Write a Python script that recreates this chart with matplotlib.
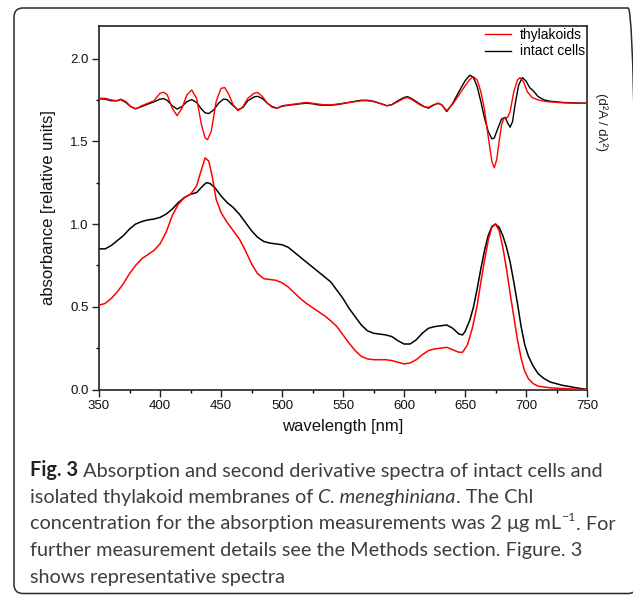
import matplotlib
matplotlib.use("Agg")
import matplotlib.pyplot as plt
from matplotlib.patches import FancyBboxPatch
from matplotlib.transforms import IdentityTransform
from matplotlib.ticker import MultipleLocator

# ---------------- data ----------------
wl_abs_cells = [350, 355, 360, 365, 370, 375, 380, 385, 390, 395, 400, 405, 410, 415, 420, 425, 430, 435, 438, 441,
                445, 450, 455, 460, 465, 470, 475, 480, 485, 490, 495, 500, 505, 510, 515, 520, 525, 530, 535, 540,
                545, 550, 555, 560, 565, 570, 575, 580, 585, 590, 595, 600, 605, 610, 615, 620, 625, 630, 635, 640,
                645, 648, 650, 654, 657, 660, 663, 666, 669, 672, 675, 678, 681, 684, 687, 690, 693, 696, 699, 702,
                706, 710, 715, 720, 730, 740, 750]
abs_cells = [0.85, 0.85, 0.87, 0.90, 0.93, 0.97, 1.00, 1.015, 1.025, 1.03, 1.04, 1.06, 1.09, 1.13, 1.16, 1.18, 1.19, 1.23, 1.25, 1.245,
             1.22, 1.17, 1.13, 1.10, 1.06, 1.01, 0.96, 0.92, 0.895, 0.885, 0.88, 0.875, 0.86, 0.83, 0.80, 0.77, 0.74, 0.71, 0.68, 0.65,
             0.60, 0.55, 0.49, 0.44, 0.39, 0.355, 0.34, 0.335, 0.33, 0.32, 0.295, 0.275, 0.275, 0.30, 0.34, 0.37, 0.38, 0.385, 0.39, 0.37,
             0.335, 0.33, 0.35, 0.42, 0.50, 0.61, 0.73, 0.84, 0.93, 0.985, 1.00, 0.98, 0.93, 0.86, 0.77, 0.65, 0.52, 0.38, 0.27, 0.20,
             0.14, 0.095, 0.065, 0.045, 0.025, 0.012, 0.0]

wl_abs_thyl = [350, 355, 360, 365, 370, 375, 380, 385, 390, 395, 400, 405, 410, 415, 420, 425, 430, 434, 437, 440,
               443, 446, 450, 455, 460, 465, 470, 475, 480, 485, 490, 495, 500, 505, 510, 515, 520, 525, 530, 535,
               540, 545, 550, 555, 560, 565, 570, 575, 580, 585, 590, 595, 600, 605, 610, 615, 620, 625, 630, 635,
               640, 645, 648, 652, 656, 660, 663, 666, 669, 672, 675, 678, 681, 684, 687, 690, 693, 696, 699, 702,
               706, 710, 720, 735, 750]
abs_thyl = [0.51, 0.52, 0.55, 0.59, 0.64, 0.70, 0.75, 0.79, 0.815, 0.84, 0.88, 0.95, 1.05, 1.12, 1.16, 1.18, 1.23, 1.33, 1.40, 1.38,
            1.28, 1.15, 1.07, 1.01, 0.96, 0.91, 0.84, 0.76, 0.70, 0.67, 0.665, 0.66, 0.645, 0.62, 0.585, 0.55, 0.52, 0.495, 0.47, 0.445,
            0.415, 0.38, 0.33, 0.28, 0.235, 0.20, 0.185, 0.18, 0.18, 0.18, 0.175, 0.165, 0.155, 0.16, 0.18, 0.21, 0.235, 0.245, 0.25, 0.255,
            0.24, 0.225, 0.225, 0.27, 0.37, 0.51, 0.65, 0.78, 0.90, 0.98, 1.00, 0.96, 0.86, 0.73, 0.58, 0.44, 0.30, 0.19, 0.11, 0.065,
            0.035, 0.02, 0.01, 0.004, 0.0]

wl_d2_cells = [350, 355, 360, 364, 368, 372, 376, 380, 385, 390, 395, 400, 403, 406, 410, 414, 418, 422, 426, 430,
               434, 437, 440, 444, 448, 452, 455, 460, 464, 468, 472, 477, 480, 484, 488, 492, 496, 500, 505, 510,
               515, 520, 525, 530, 535, 540, 545, 550, 555, 560, 565, 570, 575, 580, 586, 590, 595, 600, 603, 607,
               612, 616, 620, 624, 628, 631, 635, 640, 645, 650, 654, 657, 660, 663, 666, 669, 672, 674, 677, 680,
               683, 685, 687, 689, 691, 694, 697, 700, 703, 706, 710, 715, 720, 730, 740, 750]
d2_cells = [1.757, 1.755, 1.745, 1.745, 1.752, 1.735, 1.71, 1.697, 1.71, 1.725, 1.738, 1.755, 1.758, 1.747, 1.715, 1.695, 1.71, 1.74, 1.752, 1.735,
            1.695, 1.672, 1.668, 1.69, 1.73, 1.755, 1.752, 1.715, 1.69, 1.705, 1.745, 1.768, 1.772, 1.758, 1.73, 1.71, 1.70, 1.712, 1.718, 1.722,
            1.727, 1.73, 1.727, 1.72, 1.718, 1.718, 1.722, 1.728, 1.735, 1.742, 1.748, 1.748, 1.742, 1.73, 1.715, 1.722, 1.745, 1.765, 1.77, 1.755,
            1.73, 1.712, 1.70, 1.718, 1.73, 1.72, 1.68, 1.73, 1.80, 1.865, 1.90, 1.885, 1.83, 1.74, 1.64, 1.56, 1.515, 1.52, 1.58, 1.635,
            1.645, 1.61, 1.585, 1.62, 1.72, 1.84, 1.885, 1.865, 1.825, 1.805, 1.77, 1.75, 1.742, 1.735, 1.732, 1.73]

wl_d2_thyl = [350, 355, 360, 365, 368, 372, 376, 380, 385, 390, 395, 400, 403, 406, 410, 414, 418, 422, 426, 430,
              434, 437, 439, 442, 446, 450, 453, 456, 460, 464, 468, 472, 477, 480, 484, 488, 492, 496, 500, 505,
              510, 515, 520, 525, 530, 535, 540, 545, 550, 555, 560, 565, 570, 575, 580, 586, 590, 595, 600, 603,
              607, 612, 616, 620, 624, 628, 631, 635, 640, 645, 650, 654, 657, 660, 663, 666, 669, 672, 674, 676,
              678, 680, 682, 685, 687, 690, 693, 695, 698, 701, 705, 710, 715, 720, 730, 740, 750]
d2_thyl = [1.76, 1.76, 1.75, 1.745, 1.755, 1.74, 1.71, 1.695, 1.715, 1.73, 1.745, 1.79, 1.797, 1.78, 1.70, 1.655, 1.70, 1.78, 1.81, 1.76,
           1.60, 1.52, 1.51, 1.56, 1.74, 1.82, 1.825, 1.79, 1.72, 1.685, 1.71, 1.76, 1.79, 1.795, 1.77, 1.73, 1.705, 1.70, 1.715, 1.72,
           1.725, 1.73, 1.735, 1.73, 1.725, 1.72, 1.72, 1.725, 1.73, 1.735, 1.74, 1.745, 1.745, 1.74, 1.73, 1.715, 1.72, 1.74, 1.76, 1.765,
           1.75, 1.725, 1.71, 1.705, 1.72, 1.73, 1.72, 1.685, 1.725, 1.78, 1.835, 1.875, 1.89, 1.87, 1.80, 1.69, 1.53, 1.38, 1.34, 1.39,
           1.50, 1.60, 1.64, 1.645, 1.68, 1.80, 1.87, 1.885, 1.86, 1.80, 1.765, 1.75, 1.742, 1.738, 1.733, 1.73, 1.73]

series_labels = ["thylakoids", "intact cells"]
x_ticks = [350, 400, 450, 500, 550, 600, 650, 700, 750]
y_ticks = [0.0, 0.5, 1.0, 1.5, 2.0]

# ---------------- figure ----------------
W, H = 633, 595
fig = plt.figure(figsize=(W / 100, H / 100), dpi=100)
fig.patch.set_facecolor("white")

# rounded border around the whole figure panel (right side runs off the image)
border = FancyBboxPatch((14, 1.5), 623, 585.5, boxstyle="round,pad=0,rounding_size=9",
                        transform=IdentityTransform(), fill=False, edgecolor="#2b2b2b",
                        linewidth=1.1, clip_on=False)
fig.patches.append(border)

ax = fig.add_axes([99 / W, 1 - 389.5 / H, (587 - 99) / W, (389.5 - 25.5) / H])
axis_font = "Liberation Sans"
RED = "#ff0000"

ax.plot(wl_d2_thyl, d2_thyl, color=RED, lw=1.0, label=series_labels[0], zorder=3)
ax.plot(wl_d2_cells, d2_cells, color="black", lw=1.0, label=series_labels[1], zorder=2)
ax.plot(wl_abs_thyl, abs_thyl, color=RED, lw=1.1, zorder=3)
ax.plot(wl_abs_cells, abs_cells, color="black", lw=1.1, zorder=2)

ax.set_xlim(350, 750)
ax.set_ylim(0, 2.2)
ax.set_xticks(x_ticks)
ax.set_yticks(y_ticks)
ax.set_yticklabels([f"{v:.1f}" for v in y_ticks])
ax.xaxis.set_minor_locator(MultipleLocator(25))
ax.yaxis.set_minor_locator(MultipleLocator(0.25))
ax.tick_params(axis="both", which="major", direction="out", length=5, width=1.0,
               labelsize=9.5, pad=2.5, colors="#222222")
ax.tick_params(axis="both", which="minor", direction="out", length=2.5, width=1.0)
ax.tick_params(axis="both", labelcolor="#111111")
for lab in ax.get_xticklabels() + ax.get_yticklabels():
    lab.set_fontfamily(axis_font)
for sp in ax.spines.values():
    sp.set_linewidth(1.2)
    sp.set_color("#222222")

ax.set_xlabel("wavelength [nm]", fontsize=12, fontfamily=axis_font, labelpad=5, color="#111111")
ax.set_ylabel("absorbance [relative units]", fontsize=12, fontfamily=axis_font, labelpad=10, color="#111111")

leg = ax.legend(loc="upper right", bbox_to_anchor=(1.0, 1.0), frameon=False, borderpad=0.05,
                borderaxespad=0.1, handlelength=1.9, handletextpad=0.6, labelspacing=0.2,
                prop={"family": axis_font, "size": 10})

ax.text(1.03, 0.735, "(d²A / dλ²)", transform=ax.transAxes, rotation=-90, fontsize=9.5,
        fontfamily=axis_font, ha="center", va="center", color="#222222")

# ---------------- caption ----------------
cap_font = ["Lato", "Open Sans", "DejaVu Sans"]
cap_color = "#3d3d3d"
renderer = fig.canvas.get_renderer()

lines = [
    [("Fig. 3", {"fontweight": "bold", "color": "#222222"}),
     (" Absorption and second derivative spectra of intact cells and", {})],
    [("isolated thylakoid membranes of ", {}), ("C. meneghiniana", {"fontstyle": "italic"}),
     (". The Chl", {})],
    [("concentration for the absorption measurements was 2 μg mL", {}), ("−1", {"sup": True}),
     (". For", {})],
    [("further measurement details see the Methods section. Figure. 3", {})],
    [("shows representative spectra", {})],
]


def measure(segs, size):
    total = 0.0
    for txt, kw in segs:
        kw2 = {k: v for k, v in kw.items() if k != "sup"}
        s = size * (0.62 if kw.get("sup") else 1.0)
        t = fig.text(0, 0, txt, fontsize=s, family=cap_font, **kw2)
        total += t.get_window_extent(renderer).width
        t.remove()
    return total


base_size = 12.0
w0 = measure(lines[0], base_size)
cap_size = base_size * 573.0 / w0

baselines = [476.5, 503.0, 529.5, 556.0, 582.5]
for segs, yb in zip(lines, baselines):
    x = 30.0
    for txt, kw in segs:
        kw2 = {k: v for k, v in kw.items() if k != "sup"}
        sup = kw.get("sup", False)
        s = cap_size * (0.62 if sup else 1.0)
        y = yb - (cap_size * 1.39 * 0.42 if sup else 0)
        col = kw2.pop("color", cap_color)
        t = fig.text(x / W, 1 - y / H, txt, fontsize=s, family=cap_font, color=col,
                     ha="left", va="baseline", **kw2)
        x += t.get_window_extent(renderer).width

fig.savefig("out.png", dpi=100, facecolor="white")
